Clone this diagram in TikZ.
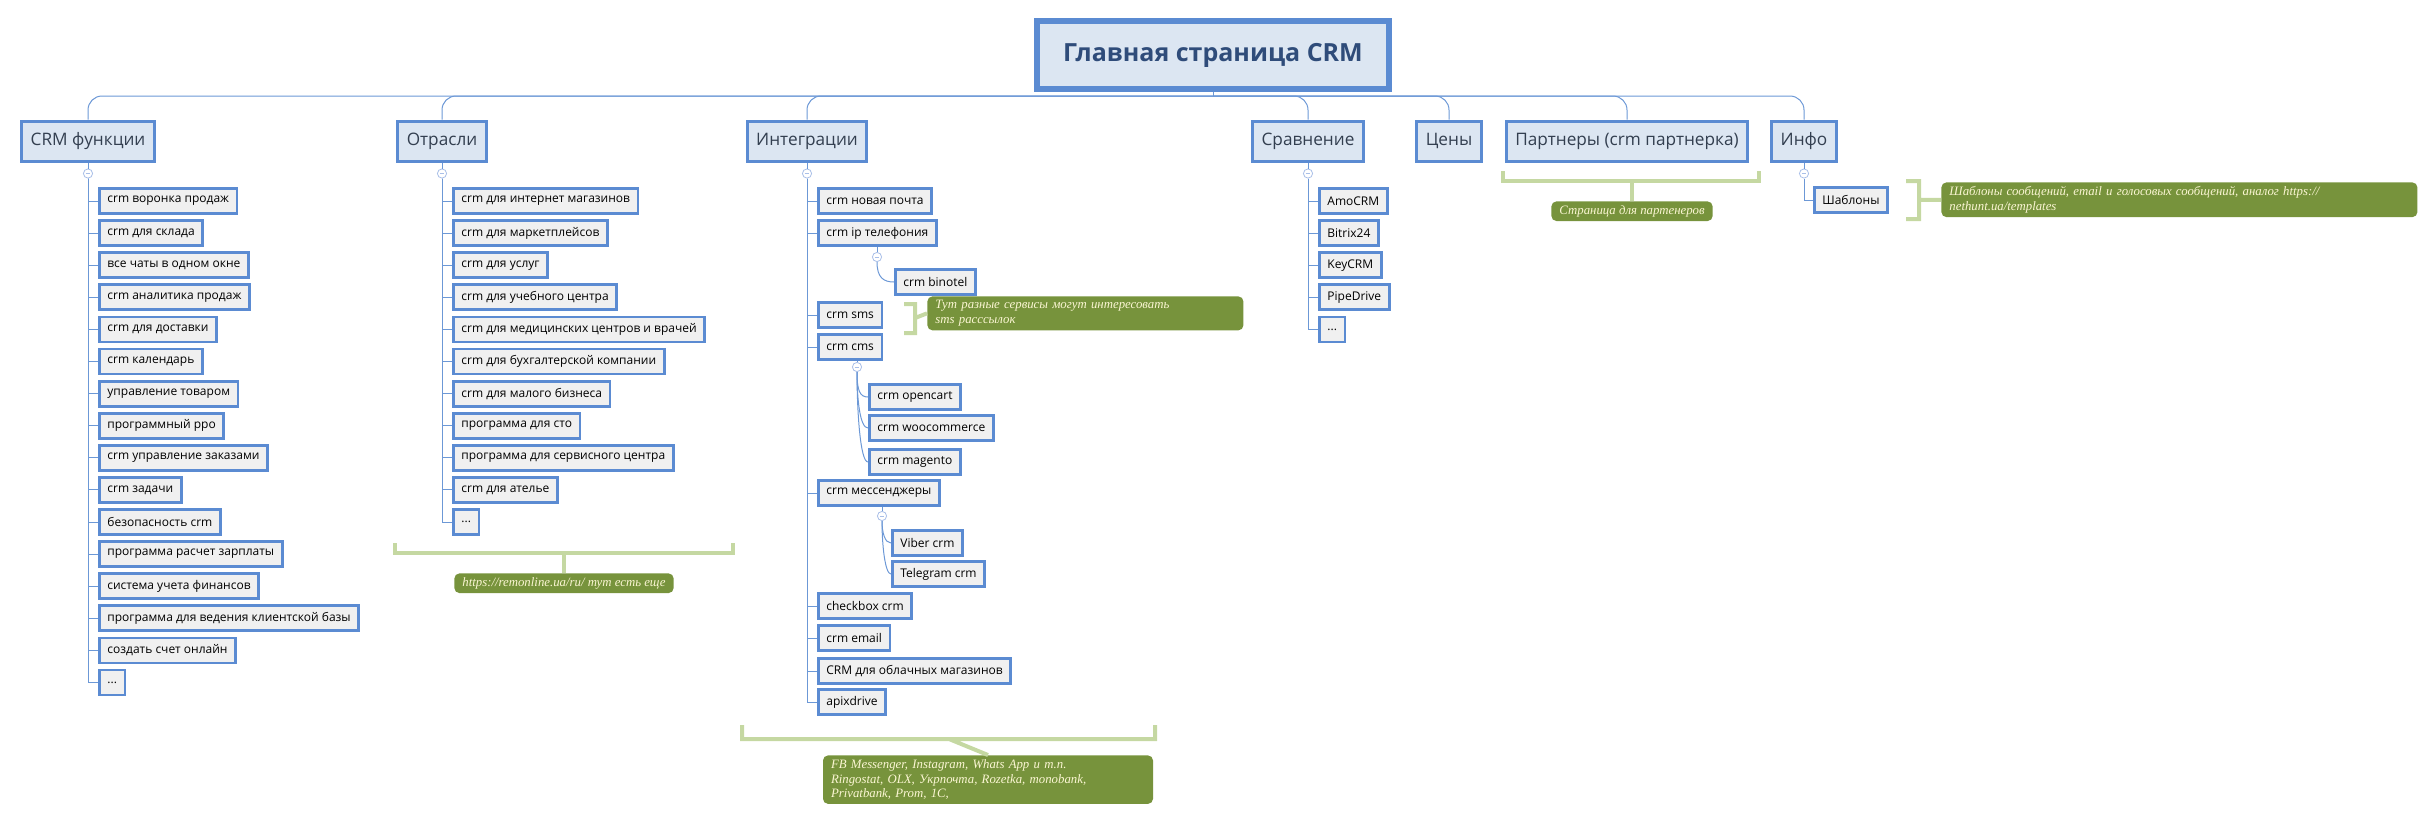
\documentclass[tikz,border=0pt]{standalone}
\usepackage{fontspec}
\setmainfont{Open Sans}
\newfontfamily\notefont{Liberation Serif}
\newcommand\myelps{...}
\definecolor{bd}{HTML}{5B8BD2}
\definecolor{l1fill}{HTML}{DCE6F2}
\definecolor{leaffill}{HTML}{F0F0F0}
\definecolor{ln}{HTML}{6C98D6}
\definecolor{togc}{HTML}{A9BFE8}
\definecolor{ng}{HTML}{77933C}
\definecolor{nt}{HTML}{FBF6D3}
\definecolor{bg}{HTML}{C5D8A2}
\definecolor{ltext}{HTML}{333F50}
\definecolor{mtext}{HTML}{2F4C7A}
\begin{document}
\begin{tikzpicture}[x=0.5pt,y=-0.5pt,
 mainbox/.style={draw=bd,line width=2.6pt,fill=l1fill,text=mtext,font=\fontsize{12.5}{14}\selectfont\bfseries,minimum width=176pt,minimum height=34pt},
 lvl1/.style={draw=bd,line width=1.5pt,fill=l1fill,text=ltext,font=\fontsize{8.6}{10}\selectfont,minimum height=20pt,inner xsep=4.5pt},
 leaf/.style={draw=bd,line width=1.4pt,fill=leaffill,font=\fontsize{6}{7}\selectfont,minimum height=12.5pt,inner xsep=4pt,inner ysep=1pt,anchor=west},
 conn/.style={draw=ln,line width=0.5pt},
 tog/.style={circle,draw=togc,fill=white,inner sep=0pt,minimum size=4.6pt,line width=0.4pt,
   path picture={\draw[togc,line width=0.4pt] ([xshift=-1.2pt]path picture bounding box.center) -- ([xshift=1.2pt]path picture bounding box.center);}},
 note/.style={fill=ng,rounded corners=2.5pt,text=nt,font=\notefont\itshape\fontsize{6.4}{7.4}\selectfont,align=left,anchor=north west,inner xsep=4pt,inner ysep=2pt},
 brk/.style={draw=bg,line width=2pt}
]
\useasboundingbox (0,0) rectangle (2430,827);
% main
\node[mainbox] (main) at (1213,55) {Главная страница CRM};
\coordinate (bus) at (1213,96);
\draw[conn] (main.south) -- (bus);
% level 1
\node[lvl1] (crm) at (88,141) {CRM функции};
\node[lvl1] (otr) at (442,141) {Отрасли};
\node[lvl1] (int) at (807,141) {Интеграции};
\node[lvl1] (srv) at (1308,141) {Сравнение};
\node[lvl1] (cen) at (1449,141) {Цены};
\node[lvl1] (par) at (1627,141) {Партнеры (crm партнерка)};
\node[lvl1] (inf) at (1804,141) {Инфо};
\foreach \n in {crm,otr,int,srv,cen,par,inf}{\draw[conn,rounded corners=7] (bus) -| (\n.north);}
% toggles
\foreach \n in {crm,otr,int,srv,inf}{\node[tog] (t\n) at ([yshift=-5.5pt]\n.south) {}; \draw[conn] (\n.south) -- (t\n.north);}
% CRM functions
\foreach \t [count=\i] in {crm воронка продаж,crm для склада,все чаты в одном окне,crm аналитика продаж,crm для доставки,crm календарь,управление товаром,программный рро,crm управление заказами,crm задачи,безопасность crm,программа расчет зарплаты,система учета финансов,программа для ведения клиентской базы,создать счет онлайн,\myelps}{
 \node[leaf] (f\i) at (98,{201+32.1*(\i-1)}) {\t};
 \draw[conn] (tcrm.south) |- (f\i.west);}
% Otrasli
\foreach \t [count=\i] in {crm для интернет магазинов,crm для маркетплейсов,crm для услуг,crm для учебного центра,crm для медицинских центров и врачей,crm для бухгалтерской компании,crm для малого бизнеса,программа для сто,программа для сервисного центра,crm для ателье,\myelps}{
 \node[leaf] (o\i) at (452,{201+32.1*(\i-1)}) {\t};
 \draw[conn] (totr.south) |- (o\i.west);}
% Sravnenie
\foreach \t [count=\i] in {AmoCRM,Bitrix24,KeyCRM,PipeDrive,\myelps}{
 \node[leaf] (s\i) at (1318,{201+32.1*(\i-1)}) {\t};
 \draw[conn] (tsrv.south) |- (s\i.west);}
% Integrations
\node[leaf] (i1) at (817,201) {crm новая почта};
\node[leaf] (i2) at (817,233) {crm ip телефония};
\node[leaf] (i3) at (817,315) {crm sms};
\node[leaf] (i4) at (817,347) {crm cms};
\node[leaf] (i5) at (817,493) {crm мессенджеры};
\node[leaf] (i6) at (817,606) {checkbox crm};
\node[leaf] (i7) at (817,638) {crm email};
\node[leaf] (i8) at (817,671) {CRM для облачных магазинов};
\node[leaf] (i9) at (817,702) {apixdrive};
\foreach \i in {1,2,3,4,5,6,7,8,9}{\draw[conn] (tint.south) |- (i\i.west);}
% sub children
\node[tog] (ti2) at (877,257) {};
\draw[conn] (ti2.north) -- (ti2 |- i2.south);
\node[leaf] (b1) at (894,282) {crm binotel};
\draw[conn] (ti2.south) .. controls +(0,16) and +(-10,0) .. (b1.west);
\node[tog] (ti4) at (857,367) {};
\draw[conn] (ti4.north) -- (ti4 |- i4.south);
\node[leaf] (c1) at (868,397) {crm opencart};
\node[leaf] (c2) at (868,428) {crm woocommerce};
\node[leaf] (c3) at (868,462) {crm magento};
\draw[conn] (ti4.south) .. controls +(0,19) and +(-8,0) .. (c1.west);
\draw[conn] (ti4.south) .. controls +(0,28) and +(-8,0) .. (c2.west);
\draw[conn] (ti4.south) .. controls +(0,37) and +(-8,0) .. (c3.west);
\node[tog] (ti5) at (882,516) {};
\draw[conn] (ti5.north) -- (ti5 |- i5.south);
\node[leaf] (v1) at (891,543) {Viber crm};
\node[leaf] (v2) at (891,574) {Telegram crm};
\draw[conn] (ti5.south) .. controls +(0,12) and +(-6,0) .. (v1.west);
\draw[conn] (ti5.south) .. controls +(0,24) and +(-6,0) .. (v2.west);
% Info
\node[leaf] (sh) at (1813,200) {Шаблоны};
\draw[conn] (tinf.south) |- (sh.west);
% notes
\node[note,text width=150pt] (n1) at (927,296) {Тут разные сервисы могут интересовать\\ sms расcсылок};
\draw[brk] (904,304) -- (915,304) -- (915,333) -- (904,333) (915,318) -- (n1.west);
\node[note,anchor=north] (n2) at (564,573) {https://remonline.ua/ru/ тут есть еще};
\draw[brk] (395,543) -- (395,553) -- (733,553) -- (733,543) (564,553) -- (n2.north);
\node[note,anchor=north,text width=157pt] (n3) at (988,755) {FB Messenger, Instagram, Whats App и т.п.\\ Ringostat, OLX, Укрпочта, Rozetka, monobank,\\ Privatbank, Prom, 1C,};
\draw[brk] (742,725) -- (742,739) -- (1155,739) -- (1155,725) (949,739) -- (n3.north);
\node[note,anchor=north] (n4) at (1632,201) {Страница для партенеров};
\draw[brk] (1503,171) -- (1503,181) -- (1759,181) -- (1759,171) (1632,181) -- (n4.north);
\node[note,text width=230pt] (n5) at (1941,182) {Шаблоны сообщений, email и голосовых сообщений, аналог https://\\ nethunt.ua/templates};
\draw[brk] (1906,181) -- (1919,181) -- (1919,219) -- (1906,219) (1919,200) -- (n5.west);
\end{tikzpicture}
\end{document}
